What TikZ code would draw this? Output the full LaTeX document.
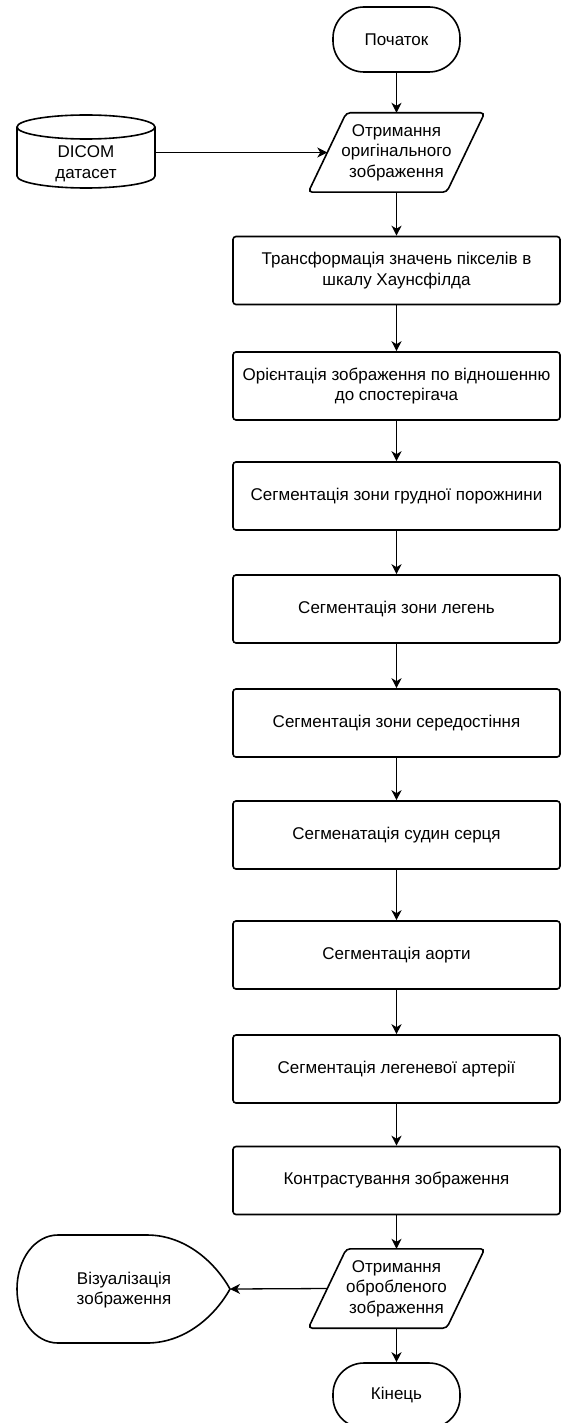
\documentclass[tikz,border=0pt]{standalone}
\usepackage{fontspec}
\setmainfont{Liberation Sans}
\usetikzlibrary{arrows.meta}
\begin{document}
\begin{tikzpicture}[x=1pt,y=-1pt,
  every node/.style={font=\fontsize{17}{20.5}\selectfont, align=center, inner sep=0pt},
  procbox/.style={draw, line width=1.6pt, rounded corners=3pt, minimum width=327pt, minimum height=68pt},
  term/.style={draw, line width=1.6pt, rounded corners=31pt, minimum width=127pt, minimum height=65pt},
  iotext/.style={minimum width=138pt, minimum height=79pt},
  arr/.style={line width=1.3pt, -{Stealth[length=10pt,width=10pt,inset=3pt]}},
  shapeline/.style={line width=1.6pt}
]
\useasboundingbox (0,0) rectangle (561,1423);

% start
\node[term] (start) at (396.5,39.5) {Початок};

% input parallelogram 1
\node[iotext] (p1) at (396.5,152.5) {Отримання\\оригінального\\зображення};
\draw[shapeline, rounded corners=4pt] ([xshift=19pt]p1.north west) -- ([xshift=19pt]p1.north east) -- ([xshift=-19pt]p1.south east) -- ([xshift=-19pt]p1.south west) -- cycle;

% DICOM cylinder
\draw[shapeline] (86,127) ellipse [x radius=69, y radius=12];
\draw[shapeline] (17,127) -- (17,176) .. controls (17,182.6) and (47.9,188) .. (86,188) .. controls (124.1,188) and (155,182.6) .. (155,176) -- (155,127);
\node[minimum width=138pt, minimum height=40pt] (dicom) at (86,164) {DICOM\\датасет};

% process boxes
\node[procbox] (b1) at (396.5,270.5) {Трансформація значень пікселів в\\шкалу Хаунсфілда};
\node[procbox] (b2) at (396.5,386) {Орієнтація зображення по відношенню\\до спостерігача};
\node[procbox] (b3) at (396.5,496) {Сегментація зони грудної порожнини};
\node[procbox] (b4) at (396.5,609) {Сегментація зони легень};
\node[procbox] (b5) at (396.5,723) {Сегментація зони середостіння};
\node[procbox] (b6) at (396.5,835) {Сегменатація судин серця};
\node[procbox] (b7) at (396.5,955) {Сегментація аорти};
\node[procbox] (b8) at (396.5,1069) {Сегментація легеневої артерії};
\node[procbox] (b9) at (396.5,1180.5) {Контрастування зображення};

% output parallelogram 2
\node[iotext] (p2) at (396.5,1288.5) {Отримання\\обробленого\\зображення};
\draw[shapeline, rounded corners=4pt] ([xshift=19pt]p2.north west) -- ([xshift=19pt]p2.north east) -- ([xshift=-19pt]p2.south east) -- ([xshift=-19pt]p2.south west) -- cycle;

% display shape
\coordinate (vispt) at (230,1289);
\draw[shapeline] (58,1235) -- (147,1235) .. controls (185,1235) and (215,1262) .. (vispt) .. controls (215,1316) and (185,1343) .. (147,1343) -- (58,1343) .. controls (35,1343) and (17,1319) .. (17,1289) .. controls (17,1259) and (35,1235) .. (58,1235) -- cycle;
\node (vis) at (124,1290) {Візуалізація\\зображення};

% end
\node[term] (end) at (396.5,1395.5) {Кінець};

% connectors
\draw[arr] (start.south) -- (p1.north);
\draw[arr] (dicom.east |- p1.west) -- (p1.west);
\draw[arr] (p1.south) -- (b1.north);
\draw[arr] (b1) -- (b2);
\draw[arr] (b2) -- (b3);
\draw[arr] (b3) -- (b4);
\draw[arr] (b4) -- (b5);
\draw[arr] (b5) -- (b6);
\draw[arr] (b6) -- (b7);
\draw[arr] (b7) -- (b8);
\draw[arr] (b8) -- (b9);
\draw[arr] (b9.south) -- (p2.north);
\draw[arr] (p2.west) -- (vispt);
\draw[arr] (p2.south) -- (end.north);
\end{tikzpicture}
\end{document}
